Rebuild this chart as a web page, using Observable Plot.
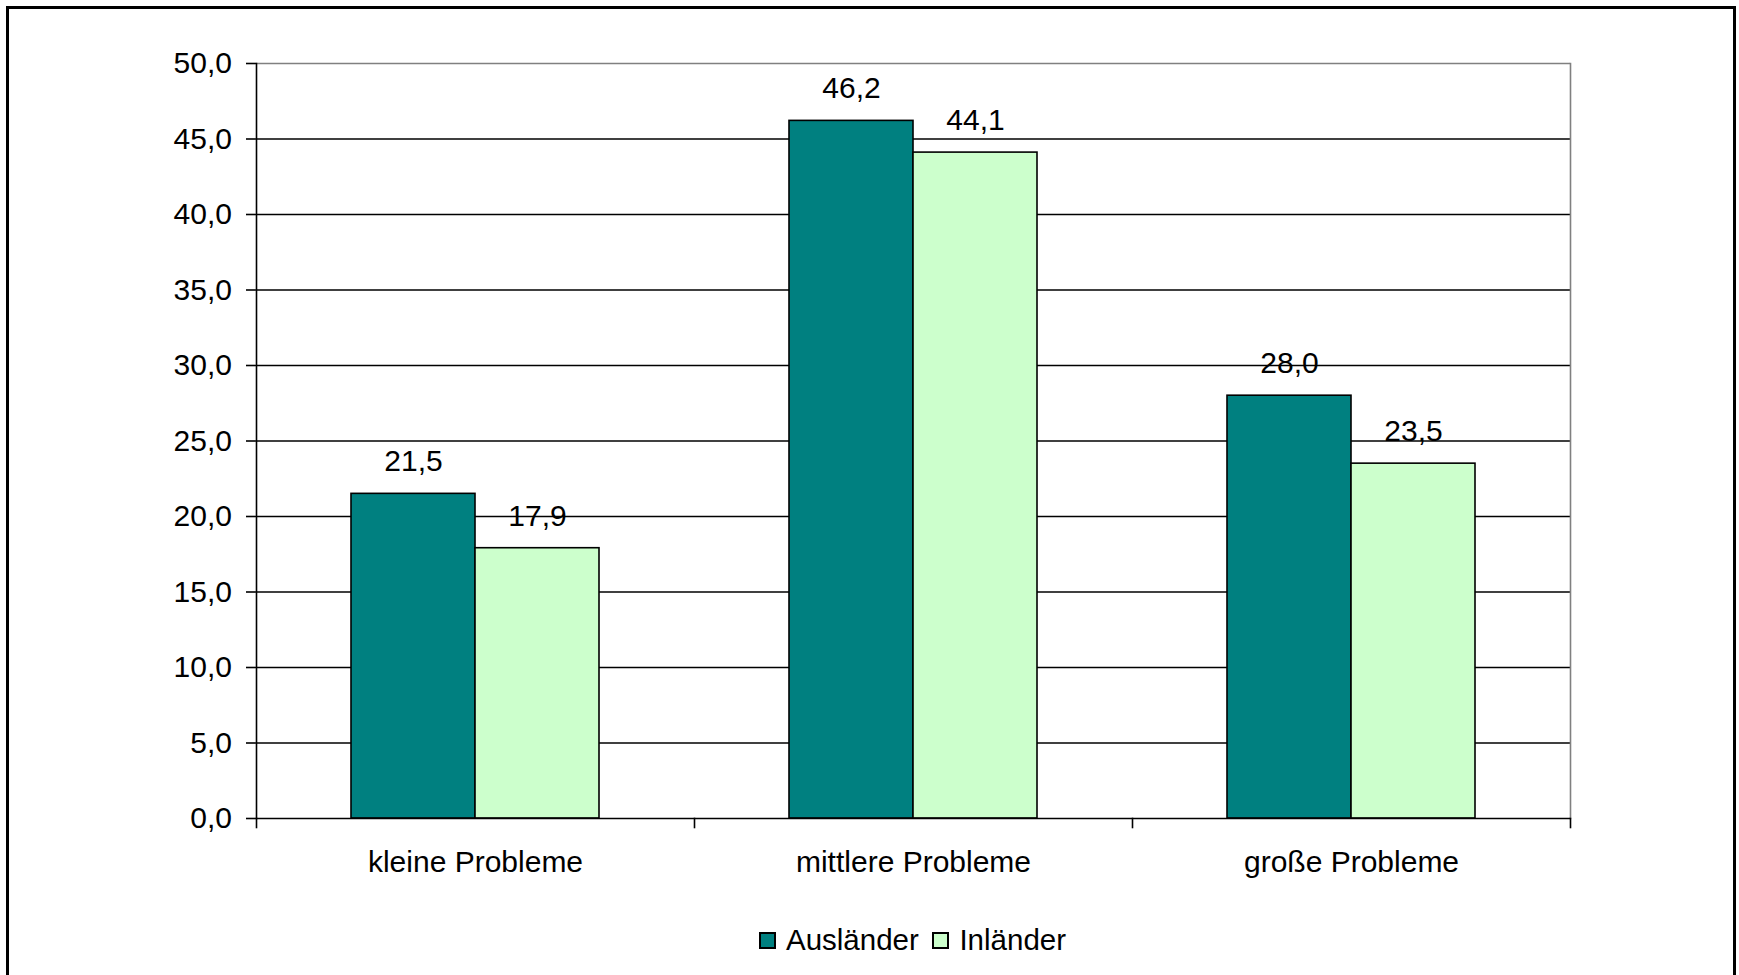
<!DOCTYPE html>
<html>
<head>
<meta charset="utf-8">
<script src="https://cdn.jsdelivr.net/npm/d3@7"></script>
<script src="https://cdn.jsdelivr.net/npm/@observablehq/plot@0.6"></script>
<style>
  html, body { margin: 0; padding: 0; background: #fff; overflow: hidden; width: 1739px; height: 975px; }
  #chart { position: absolute; left: 0; top: 0; }
  #border { position: absolute; left: 6px; top: 6px; width: 1730px; height: 1010px; box-sizing: border-box;
            border: 3px solid #000; pointer-events: none; z-index: 5; }
  #legend { position: absolute; left: 255px; width: 1315px; top: 923px; display: flex; justify-content: center;
            align-items: center; font-family: "Liberation Sans", Arial, sans-serif; font-size: 29.5px; line-height: 34px; color: #000; }
  .item { display: flex; align-items: center; margin: 0 6.8px; }
  .sw { width: 17px; height: 17px; box-sizing: border-box; border: 2px solid #000; margin-right: 10px; }
</style>
</head>
<body>
<div id="chart"></div>
<div id="legend"></div>
<div id="border"></div>
<script>
const categories = ["kleine Probleme", "mittlere Probleme", "große Probleme"];
const series = ["Ausländer", "Inländer"];
const auslaender = [21.5, 46.2, 28.0];
const inlaender = [17.9, 44.1, 23.5];
const seriesColors = ["#008080", "#CCFFCC"];
const yTicks = [0, 5, 10, 15, 20, 25, 30, 35, 40, 45, 50];

const values = [auslaender, inlaender];
const data = categories.flatMap((c, i) => series.map((s, j) => ({category: c, series: s, value: values[j][i]})));

const fmt = d => d3.format(".1f")(d).replace(".", ",");

const W = 1739, H = 890, mL = 255, mR = 169, mT = 63, mB = 72;
const plotH = H - mT - mB;
const font = "Liberation Sans, Arial, sans-serif";
const fs = 30;

const chart = Plot.plot({
  width: W, height: H,
  marginLeft: mL, marginRight: mR, marginTop: mT, marginBottom: mB,
  style: {fontFamily: font, fontSize: fs + "px", color: "#000", background: "transparent", overflow: "visible"},
  fx: {domain: categories, padding: 0, label: null},
  x: {domain: series, paddingInner: 0, paddingOuter: 0.754, axis: null},
  y: {domain: [0, 50], label: null},
  color: {domain: series, range: seriesColors},
  marks: [
    Plot.ruleY(yTicks.filter(t => t > 0 && t < 50), {stroke: "#000", strokeWidth: 1.6}),
    Plot.ruleY([50], {stroke: "#808080", strokeWidth: 1.6}),
    Plot.frame({anchor: "right", facetAnchor: "right", stroke: "#808080", strokeWidth: 1.6}),
    Plot.barY(data, {fx: "category", x: "series", y: "value", fill: "series", stroke: "#000", strokeWidth: 1.6}),
    Plot.text(data, {fx: "category", x: "series", y: "value", text: d => fmt(d.value), dy: -32, fill: "#000", fontSize: fs}),
    Plot.ruleY([0], {stroke: "#000", strokeWidth: 1.6}),
    Plot.frame({anchor: "left", facetAnchor: "left", stroke: "#000", strokeWidth: 1.6}),
    Plot.frame({anchor: "left", insetTop: plotH, insetBottom: -9, stroke: "#000", strokeWidth: 1.6}),
    Plot.frame({anchor: "right", facetAnchor: "right", insetTop: plotH, insetBottom: -9, stroke: "#000", strokeWidth: 1.6}),
    Plot.axisY({ticks: yTicks, tickFormat: fmt, tickSize: 10, tickPadding: 14.5, label: null, anchor: "left",
                stroke: "#000", strokeWidth: 1.6, fontSize: fs}),
    Plot.axisFx({anchor: "bottom", tickSize: 0, tickPadding: 32, label: null, fontSize: fs})
  ]
});
document.getElementById("chart").appendChild(chart);

const legend = document.getElementById("legend");
series.forEach((s, i) => {
  const item = document.createElement("div");
  item.className = "item";
  const sw = document.createElement("div");
  sw.className = "sw";
  sw.style.background = seriesColors[i];
  const t = document.createElement("span");
  t.textContent = s;
  item.appendChild(sw);
  item.appendChild(t);
  legend.appendChild(item);
});
</script>
</body>
</html>
